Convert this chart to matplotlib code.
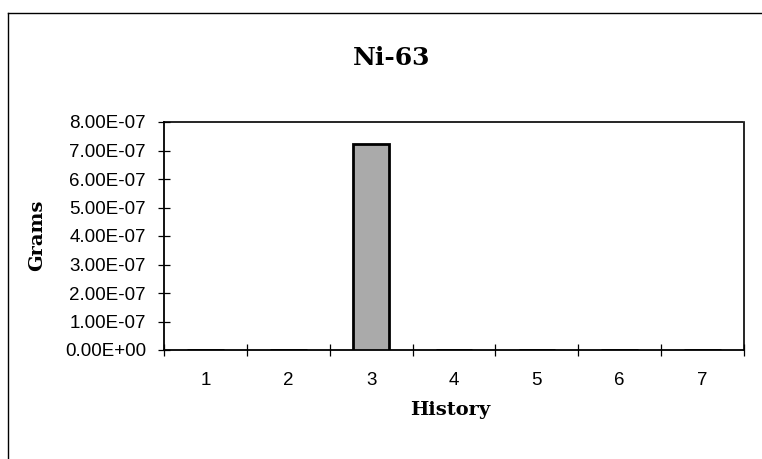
import matplotlib
matplotlib.use("Agg")
import matplotlib.pyplot as plt
from matplotlib.lines import Line2D
from matplotlib.ticker import FixedLocator, NullFormatter

categories = ["1", "2", "3", "4", "5", "6", "7"]
grams = [0.0, 0.0, 7.23e-7, 0.0, 0.0, 0.0, 0.0]
yticks = [0, 1e-7, 2e-7, 3e-7, 4e-7, 5e-7, 6e-7, 7e-7, 8e-7]
ytick_labels = ["0.00E+00", "1.00E-07", "2.00E-07", "3.00E-07", "4.00E-07",
                "5.00E-07", "6.00E-07", "7.00E-07", "8.00E-07"]

W, H = 762, 459
fig = plt.figure(figsize=(W / 100, H / 100), dpi=100)
# outer frame (left and top edges visible)
fig.lines.append(Line2D([8 / W, 8 / W], [0, 1 - 13 / H], transform=fig.transFigure,
                        color="black", linewidth=1.0))
fig.lines.append(Line2D([8 / W, 1], [1 - 13 / H, 1 - 13 / H], transform=fig.transFigure,
                        color="black", linewidth=1.0))

left, right, top, bottom = 164, 744, 122, 350
ax = fig.add_axes([left / W, 1 - bottom / H, (right - left) / W, (bottom - top) / H])

x = list(range(1, len(categories) + 1))
ax.bar(x, grams, width=0.44, color="#aaaaaa", edgecolor="black", linewidth=2.0, zorder=3)

ax.set_xlim(0.5, len(categories) + 0.5)
ax.set_ylim(0, 8e-7)

sans = "Liberation Sans"
serif = "DejaVu Serif"

ax.set_yticks(yticks)
ax.set_yticklabels(ytick_labels, family=sans, fontsize=13.5)
ax.tick_params(axis="y", direction="inout", length=8, width=0.9, pad=9)

ax.xaxis.set_major_locator(FixedLocator([i + 0.5 for i in range(len(categories) + 1)]))
ax.xaxis.set_major_formatter(NullFormatter())
ax.set_xticks(x, minor=True)
ax.set_xticklabels(categories, minor=True, family=sans, fontsize=13.5)
ax.tick_params(axis="x", which="major", direction="inout", length=8, width=0.9)
ax.tick_params(axis="x", which="minor", length=0, pad=16)

for s in ["left", "bottom"]:
    ax.spines[s].set_linewidth(1.3)
for s in ["top", "right"]:
    ax.spines[s].set_linestyle((0, (1, 1)))
    ax.spines[s].set_linewidth(1.2)

fig.text(37 / W, 1 - 235 / H, "Grams", family=serif, fontweight="bold", fontsize=14,
         rotation=90, ha="center", va="center")
fig.text(450 / W, 1 - 410 / H, "History", family=serif, fontweight="bold", fontsize=14,
         ha="center", va="center")
fig.text(392 / W, 1 - 65 / H, "Ni-63", family=serif, fontweight="bold", fontsize=18,
         ha="center", va="baseline")

fig.savefig("out.png", dpi=100)
